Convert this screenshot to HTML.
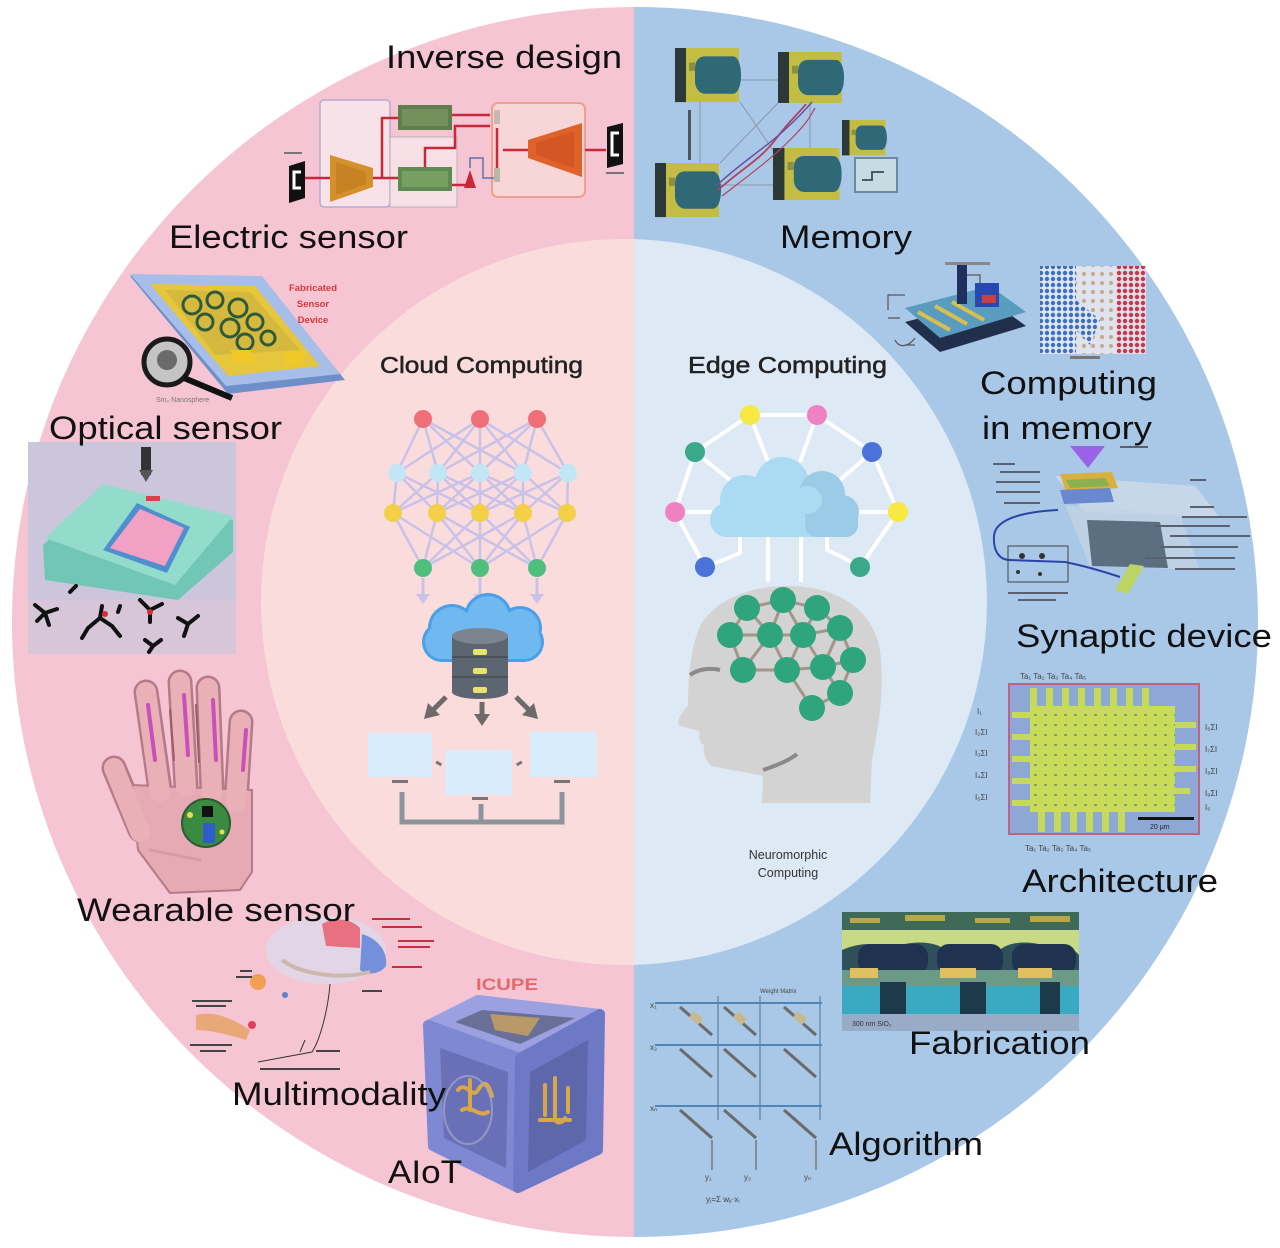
<!DOCTYPE html>
<html><head><meta charset="utf-8">
<style>
html,body{margin:0;padding:0;background:#fff;}
svg{display:block;}
text{font-family:"Liberation Sans",Arial,sans-serif;}
</style></head><body>
<svg width="1280" height="1248" viewBox="0 0 1280 1248" xmlns="http://www.w3.org/2000/svg">
<defs>
<clipPath id="L"><rect x="0" y="0" width="634" height="1248"/></clipPath>
<clipPath id="R"><rect x="634" y="0" width="646" height="1248"/></clipPath>
<pattern id="blat" width="6" height="6" patternUnits="userSpaceOnUse"><rect width="6" height="6" fill="#dfe6f2"/><circle cx="3" cy="3" r="2.2" fill="#3f6fc0"/></pattern>
<pattern id="rlat" width="6" height="6" patternUnits="userSpaceOnUse"><rect width="6" height="6" fill="#e8dde6"/><circle cx="3" cy="3" r="2.2" fill="#c03a50"/></pattern>
<pattern id="mlat" width="9" height="9" patternUnits="userSpaceOnUse"><rect width="9" height="9" fill="#dfe3ee"/><circle cx="4" cy="4" r="2" fill="#c7a888"/></pattern>
<pattern id="grid" width="10" height="10" patternUnits="userSpaceOnUse"><rect width="10" height="10" fill="#c9dc5a"/><rect x="4" y="4" width="3" height="2" fill="#8a9a6a"/></pattern>
<g id="mp">
 <rect x="0" y="0" width="64" height="52" fill="#c4bd45"/>
 <rect x="0" y="0" width="11" height="52" fill="#2d3838"/>
 <path d="M30,8 H58 C62,8 66,14 66,26 C66,38 62,44 58,44 H30 C24,44 20,38 20,32 V20 C20,12 24,8 30,8 Z" fill="#2f6876"/>
 <rect x="14" y="14" width="6" height="8" fill="#8a9040"/>
</g>
</defs>
<rect width="1280" height="1248" fill="#fff"/>
<ellipse cx="635" cy="622" rx="623" ry="615" fill="#f6c5d3" clip-path="url(#L)"/>
<ellipse cx="635" cy="622" rx="623" ry="615" fill="#a9c8e7" clip-path="url(#R)"/>
<circle cx="624" cy="602" r="363" fill="#fadcdc" clip-path="url(#L)"/>
<circle cx="624" cy="602" r="363" fill="#dde9f5" clip-path="url(#R)"/>

<!-- ===== Inverse design illustration ===== -->
<g>
 <rect x="320" y="100" width="70" height="107" rx="4" fill="#f8e2ea" stroke="#b9a9cf" stroke-width="1.5"/>
 <rect x="390" y="137" width="67" height="70" fill="#f6e0e6" stroke="#b8b0b8" stroke-width="1"/>
 <rect x="492" y="103" width="93" height="94" rx="6" fill="#f8d6d8" stroke="#ef9f8c" stroke-width="2"/>
 <polygon points="289,166 305,161 305,198 289,203" fill="#111"/>
 <path d="M301,172 h-7 v16 h7" stroke="#fff" stroke-width="3" fill="none"/>
 <polygon points="330,155 373,168 373,187 330,202" fill="#d4902a"/>
 <polygon points="336,162 366,172 366,184 336,195" fill="#c07a20" opacity="0.6"/>
 <rect x="398" y="105" width="54" height="25" fill="#5f7e4c"/>
 <rect x="402" y="109" width="46" height="17" fill="#7d9a62" opacity="0.7"/>
 <rect x="398" y="167" width="54" height="24" fill="#5f8a50"/>
 <rect x="402" y="171" width="46" height="16" fill="#80a868" opacity="0.7"/>
 <g stroke="#c8283a" stroke-width="2.5" fill="none">
  <path d="M305,178 H330"/>
  <path d="M373,178 H398 M382,178 V118 H398"/>
  <path d="M452,115 H490"/>
  <path d="M425,167 V148 H455 V126 H490"/>
  <path d="M452,185 H470"/>
  <path d="M503,150 H528"/>
  <path d="M585,150 H606"/>
  <path d="M497,178 V128"/>
 </g>
 <path d="M464,188 L470,170 L476,188 Z" fill="#c8283a"/>
 <path d="M470,168 V158 H483 V178 H495" stroke="#6070b0" stroke-width="1.5" fill="none"/>
 <rect x="494" y="110" width="6" height="14" fill="#c8b8b0"/>
 <rect x="494" y="168" width="6" height="14" fill="#b8b8a8"/>
 <polygon points="528,140 582,123 582,177 528,158" fill="#e0622a"/>
 <polygon points="536,143 574,131 574,168 536,155" fill="#c84a20" opacity="0.5"/>
 <polygon points="607,127 623,123 623,164 607,168" fill="#111"/>
 <path d="M619,133 h-7 v22 h7" stroke="#fff" stroke-width="3" fill="none"/>
 <rect x="284" y="152" width="18" height="2" fill="#777"/>
 <rect x="606" y="172" width="18" height="2" fill="#777"/>
</g>

<!-- ===== Electric sensor device ===== -->
<g>
 <polygon points="130,276 262,278 345,380 228,394" fill="#6e8fc8"/>
 <polygon points="130,274 262,276 340,374 226,386" fill="#a7bfe8"/>
 <polygon points="150,284 255,286 320,366 228,376" fill="#e6c63c"/>
 <polygon points="165,290 250,292 300,350 215,355" fill="#c8b040" opacity="0.6"/>
 <g fill="none" stroke="#2f5a3a" stroke-width="3">
  <circle cx="192" cy="305" r="9"/><circle cx="215" cy="300" r="8"/><circle cx="238" cy="308" r="9"/>
  <circle cx="205" cy="322" r="8"/><circle cx="230" cy="328" r="9"/><circle cx="255" cy="322" r="8"/>
  <circle cx="245" cy="342" r="8"/><circle cx="268" cy="338" r="7"/>
 </g>
 <rect x="228" y="350" width="20" height="14" fill="#f0c828" transform="skewX(20) translate(-125,0)"/>
 <rect x="285" y="352" width="18" height="14" fill="#f0c828"/>
 <circle cx="167" cy="362" r="23" fill="#c4c4c4" stroke="#1a1a1a" stroke-width="5"/>
 <circle cx="167" cy="360" r="10" fill="#6a6a6a"/>
 <line x1="184" y1="378" x2="232" y2="398" stroke="#111" stroke-width="6"/>
 <text x="156" y="402" font-size="7" fill="#777">Sm₂ Nanosphere</text>
 <g font-size="9.5" font-weight="bold" fill="#d8383a" text-anchor="middle">
  <text x="313" y="291">Fabricated</text>
  <text x="313" y="307">Sensor</text>
  <text x="313" y="323">Device</text>
 </g>
</g>

<!-- ===== Optical sensor ===== -->
<g>
 <rect x="28" y="442" width="208" height="212" fill="#cbc6dc"/>
 <rect x="28" y="600" width="208" height="54" fill="#d6c6d8"/>
 <polygon points="43,545 103,488 233,520 233,552 178,600 45,580" fill="#72c6b6"/>
 <polygon points="45,538 103,484 233,516 175,585" fill="#93dccc"/>
 <polygon points="137,503 190,527 167,573 103,550" fill="#4f8fd0"/>
 <polygon points="140,509 184,528 165,566 110,548" fill="#f2a0c4"/>
 <rect x="141" y="447" width="10" height="28" fill="#333"/>
 <polygon points="139,470 153,470 146,482" fill="#555"/>
 <rect x="146" y="496" width="14" height="5" fill="#d84050"/>
 <g stroke="#111" stroke-width="4" stroke-linecap="round" fill="none">
  <path d="M35,605 l10,8 l-8,8 M45,613 l12,-4 M45,613 l4,12"/>
  <path d="M88,628 l12,-10 l12,8 M100,618 l2,-12 M88,628 l-6,10 M112,626 l8,10"/>
  <path d="M140,600 l10,10 l12,-6 M150,610 l0,12"/>
  <path d="M178,618 l10,6 l10,-8 M188,624 l-4,12"/>
  <path d="M145,640 l8,6 l8,-6 M153,646 l-4,6"/>
  <path d="M118,612 l2,-6"/><path d="M70,592 l6,-6"/>
 </g>
 <circle cx="105" cy="614" r="3" fill="#d03030"/>
 <circle cx="150" cy="612" r="3" fill="#d03030"/>
</g>

<!-- ===== Hand ===== -->
<g stroke-linecap="round">
 <g stroke="#b57a88" stroke-width="25">
  <line x1="160" y1="790" x2="146" y2="692"/>
  <line x1="186" y1="785" x2="180" y2="682"/>
  <line x1="212" y1="790" x2="208" y2="688"/>
  <line x1="236" y1="800" x2="241" y2="722"/>
  <line x1="140" y1="830" x2="114" y2="768"/>
 </g>
 <polygon points="132,785 252,790 252,872 240,890 170,893 138,850" fill="#e6aab4" stroke="#b57a88" stroke-width="2"/>
 <g stroke="#e9b0b8" stroke-width="20">
  <line x1="160" y1="792" x2="146" y2="692"/>
  <line x1="186" y1="787" x2="180" y2="682"/>
  <line x1="212" y1="792" x2="208" y2="688"/>
  <line x1="236" y1="802" x2="241" y2="722"/>
  <line x1="140" y1="832" x2="114" y2="768"/>
 </g>
 <g stroke="#c850b8" stroke-width="4">
  <line x1="155" y1="760" x2="148" y2="705"/>
  <line x1="188" y1="755" x2="184" y2="695"/>
  <line x1="216" y1="760" x2="213" y2="700"/>
  <line x1="243" y1="770" x2="246" y2="730"/>
 </g>
 <g stroke="#9a5a68" stroke-width="2">
  <line x1="174" y1="760" x2="170" y2="710"/>
  <line x1="199" y1="762" x2="196" y2="705"/>
 </g>
 <line x1="150" y1="850" x2="200" y2="860" stroke="#d79aa6" stroke-width="3"/>
 <circle cx="206" cy="823" r="24" fill="#3b8a42" stroke="#2a5a30" stroke-width="2"/>
 <rect x="202" y="806" width="11" height="11" fill="#111"/>
 <rect x="203" y="823" width="12" height="20" fill="#2f5cc8"/>
 <circle cx="190" cy="815" r="3" fill="#e8e050"/>
 <circle cx="222" cy="832" r="2.5" fill="#e8e050"/>
</g>

<!-- ===== Multimodality brain ===== -->
<g>
 <ellipse cx="326" cy="950" rx="60" ry="34" fill="#e2d6e6"/>
 <path d="M322,924 C334,917 350,918 360,928 L360,948 L326,946 Z" fill="#e87080"/>
 <path d="M362,934 C376,938 388,950 386,966 C380,974 368,976 360,970 Z" fill="#7590da"/>
 <path d="M282,960 C300,974 340,980 370,972" stroke="#cdb8b0" stroke-width="4" fill="none"/>
 <circle cx="258" cy="982" r="8" fill="#f0a050"/>
 <g stroke="#333" stroke-width="1" fill="none">
  <path d="M330,984 C328,1010 320,1040 312,1052 L258,1062"/>
  <path d="M305,1040 l-5,12"/>
 </g>
 <g fill="#c83040">
  <rect x="372" y="918" width="38" height="2"/><rect x="382" y="926" width="40" height="2"/>
  <rect x="398" y="940" width="36" height="2"/><rect x="398" y="946" width="32" height="2"/>
  <rect x="392" y="966" width="30" height="2"/>
 </g>
 <g fill="#444">
  <rect x="240" y="970" width="12" height="2"/><rect x="236" y="976" width="16" height="2"/>
  <rect x="192" y="1000" width="40" height="2"/><rect x="196" y="1005" width="30" height="2"/>
  <rect x="190" y="1044" width="42" height="2"/><rect x="200" y="1050" width="26" height="2"/>
  <rect x="260" y="1068" width="80" height="2"/><rect x="316" y="1050" width="24" height="2"/>
  <rect x="362" y="990" width="20" height="2"/>
 </g>
 <path d="M196,1015 C215,1010 235,1020 250,1030 L246,1040 C230,1035 210,1030 196,1030 Z" fill="#e8a878"/>
 <circle cx="252" cy="1025" r="4" fill="#e04060"/>
 <circle cx="285" cy="995" r="3" fill="#6080d0"/>
</g>

<!-- ===== AIoT cube ===== -->
<g stroke-linejoin="round">
 <polygon points="428,1025 478,1000 600,1014 520,1058" fill="#9aa0e0" stroke="#9aa0e0" stroke-width="10"/>
 <polygon points="428,1025 520,1058 518,1188 433,1146" fill="#7f88d2" stroke="#7f88d2" stroke-width="10"/>
 <polygon points="520,1058 600,1014 598,1150 518,1188" fill="#6e79c6" stroke="#6e79c6" stroke-width="10"/>
 <polygon points="455,1022 482,1010 575,1018 520,1044" fill="#6a6f98"/>
 <polygon points="490,1014 540,1018 528,1036 495,1030" fill="#b89a68"/>
 <polygon points="440,1048 508,1072 506,1168 444,1138" fill="#6a70b8"/>
 <polygon points="530,1072 588,1040 586,1140 528,1172" fill="#5e66ac"/>
 <g stroke="#d8a848" stroke-width="4" fill="none" stroke-linecap="round">
  <path d="M458,1090 c8,-10 14,10 20,0 s10,-8 14,6 M462,1110 c10,-6 16,8 26,2 M470,1080 v30"/>
  <path d="M545,1085 v30 M555,1078 v40 c0,6 8,6 10,0 M568,1088 v24 M540,1120 h30"/>
 </g>
 <ellipse cx="468" cy="1110" rx="24" ry="34" fill="none" stroke="#a8a8c8" stroke-width="2" opacity="0.7"/>
 <text x="476" y="990" font-size="17" font-weight="bold" fill="#e26a6a" textLength="62" lengthAdjust="spacingAndGlyphs">ICUPE</text>
</g>

<!-- ===== Cloud computing ===== -->
<g>
 <path stroke="#c8c2ea" stroke-width="2.5" fill="none" d="M423 419L397 473M423 419L438 473M423 419L480 473M423 419L523 473M480 419L397 473M480 419L438 473M480 419L480 473M480 419L523 473M480 419L568 473M537 419L438 473M537 419L480 473M537 419L523 473M537 419L568 473M397 473L393 513M397 473L437 513M397 473L480 513M438 473L393 513M438 473L437 513M438 473L480 513M438 473L523 513M480 473L393 513M480 473L437 513M480 473L480 513M480 473L523 513M480 473L567 513M523 473L437 513M523 473L480 513M523 473L523 513M523 473L567 513M568 473L480 513M568 473L523 513M568 473L567 513M393 513L423 568M393 513L480 568M437 513L423 568M437 513L480 568M437 513L537 568M480 513L423 568M480 513L480 568M480 513L537 568M523 513L423 568M523 513L480 568M523 513L537 568M567 513L480 568M567 513L537 568"/>
 <g fill="#ee6f78"><circle cx="423" cy="419" r="9"/><circle cx="480" cy="419" r="9"/><circle cx="537" cy="419" r="9"/></g>
 <g fill="#c2e6f6"><circle cx="397" cy="473" r="9"/><circle cx="438" cy="473" r="9"/><circle cx="480" cy="473" r="9"/><circle cx="523" cy="473" r="9"/><circle cx="568" cy="473" r="9"/></g>
 <g fill="#f4cf48"><circle cx="393" cy="513" r="9"/><circle cx="437" cy="513" r="9"/><circle cx="480" cy="513" r="9"/><circle cx="523" cy="513" r="9"/><circle cx="567" cy="513" r="9"/></g>
 <g fill="#4fc07c"><circle cx="423" cy="568" r="9"/><circle cx="480" cy="568" r="9"/><circle cx="537" cy="568" r="9"/></g>
 <g stroke="#c8c2ea" stroke-width="3" fill="#c8c2ea">
  <line x1="423" y1="578" x2="423" y2="596"/><line x1="480" y1="578" x2="480" y2="596"/><line x1="537" y1="578" x2="537" y2="596"/>
 </g>
 <g fill="#c8c2ea"><polygon points="416,594 430,594 423,604"/><polygon points="473,594 487,594 480,604"/><polygon points="530,594 544,594 537,604"/></g>
 <!-- cloud -->
 <g fill="#4b9fe6">
  <rect x="422" y="622" width="122" height="40" rx="20"/>
  <circle cx="452" cy="628" r="24"/><circle cx="488" cy="617" r="24"/><circle cx="520" cy="628" r="22"/>
 </g>
 <g fill="#6fb8f0">
  <rect x="425" y="625" width="116" height="34" rx="17"/>
  <circle cx="452" cy="628" r="21"/><circle cx="488" cy="617" r="21"/><circle cx="520" cy="628" r="19"/>
 </g>
 <rect x="452" y="636" width="56" height="56" fill="#5d6670"/>
 <ellipse cx="480" cy="692" rx="28" ry="7" fill="#5d6670"/>
 <ellipse cx="480" cy="636" rx="28" ry="8" fill="#7c858f"/>
 <line x1="452" y1="657" x2="508" y2="657" stroke="#4a525a" stroke-width="2"/>
 <line x1="452" y1="677" x2="508" y2="677" stroke="#4a525a" stroke-width="2"/>
 <g fill="#e8e272"><rect x="473" y="649" width="14" height="6" rx="2"/><rect x="473" y="668" width="14" height="6" rx="2"/><rect x="473" y="687" width="14" height="6" rx="2"/></g>
 <g stroke="#6f6a6a" stroke-width="5">
  <line x1="446" y1="697" x2="433" y2="710"/><line x1="482" y1="702" x2="482" y2="716"/><line x1="516" y1="697" x2="529" y2="710"/>
 </g>
 <g fill="#6f6a6a">
  <polygon points="424,719 428,703 440,715"/><polygon points="474,714 490,714 482,726"/><polygon points="538,719 522,715 534,703"/>
 </g>
 <g fill="#d8ecfb">
  <rect x="368" y="733" width="64" height="44"/><rect x="445" y="750" width="67" height="45"/><rect x="530" y="732" width="67" height="45"/>
 </g>
 <g fill="#777"><rect x="392" y="780" width="16" height="3"/><rect x="472" y="797" width="16" height="3"/><rect x="554" y="780" width="16" height="3"/>
  <rect x="436" y="762" width="6" height="3" transform="rotate(30 439 763)"/><rect x="516" y="762" width="6" height="3" transform="rotate(-30 519 763)"/></g>
 <path d="M402,792 V822 H562 V792 M481,804 V822" stroke="#8c939b" stroke-width="5" fill="none"/>
 <text x="380" y="373" font-size="23" fill="#222" stroke="#222" stroke-width="0.5" textLength="203" lengthAdjust="spacingAndGlyphs">Cloud  Computing</text>
</g>

<!-- ===== Edge computing ===== -->
<g>
 <g stroke="#ffffff" stroke-width="4" fill="none" stroke-linejoin="round">
  <path d="M750,415 H817 M750,415 L695,452 L675,512 L705,567 M817,415 L872,452 L898,512 L860,567"/>
  <path d="M750,415 L768,462 M817,415 L800,462 M695,452 L730,480 M872,452 L840,480 M675,512 H712 M898,512 H856"/>
  <path d="M705,567 L723,560 L740,553 V530 M860,567 L842,557 L827,550 V530"/>
  <path d="M768,530 V582 M801,530 V582"/>
 </g>
 <g fill="#abdaf3">
  <rect x="710" y="503" width="148" height="34" rx="17"/>
  <circle cx="745" cy="500" r="25"/><circle cx="782" cy="484" r="27"/>
 </g>
 <g fill="#9ccbe8">
  <circle cx="822" cy="494" r="23"/><circle cx="842" cy="512" r="17"/><rect x="805" y="503" width="53" height="34" rx="12"/>
 </g>
 <circle cx="808" cy="500" r="14" fill="#abdaf3"/>
 <circle cx="750" cy="415" r="10" fill="#f8e844"/><circle cx="817" cy="415" r="10" fill="#ef80c2"/>
 <circle cx="695" cy="452" r="10" fill="#3aa98a"/><circle cx="872" cy="452" r="10" fill="#4a72d8"/>
 <circle cx="675" cy="512" r="10" fill="#ef80c2"/><circle cx="898" cy="512" r="10" fill="#f8e844"/>
 <circle cx="705" cy="567" r="10" fill="#4a72d8"/><circle cx="860" cy="567" r="10" fill="#3aa98a"/>
 <!-- head -->
 <path d="M787,586 C838,586 878,610 881,660 C884,700 877,732 872,760 L870,803 L762,803 L763,776 C748,772 728,770 712,766 C705,761 703,753 704,745 C698,742 700,736 699,731 L680,726 C675,722 682,712 688,706 C688,680 690,650 700,626 C715,600 750,586 787,586 Z" fill="#d3d3d3"/>
 <path d="M690,675 C700,668 712,668 720,670" stroke="#8a8a8a" stroke-width="4" fill="none"/>
 <path d="M763,770 C775,766 790,760 797,754" stroke="#8a8a8a" stroke-width="4" fill="none"/>
 <path stroke="#a2968c" stroke-width="3" fill="none" d="M747,608L783,600L817,608L840,628M747,608L730,635M747,608L770,635M783,600L770,635M783,600L803,635M817,608L803,635M730,635L770,635L803,635L840,628M730,635L743,670M770,635L743,670M770,635L787,670M803,635L787,670M803,635L823,667M840,628L823,667M840,628L853,660M743,670L787,670L823,667L853,660M823,667L840,693M853,660L840,693L812,708M787,670L812,708"/>
 <g fill="#2ea57c">
  <circle cx="747" cy="608" r="13"/><circle cx="783" cy="600" r="13"/><circle cx="817" cy="608" r="13"/>
  <circle cx="730" cy="635" r="13"/><circle cx="770" cy="635" r="13"/><circle cx="803" cy="635" r="13"/><circle cx="840" cy="628" r="13"/>
  <circle cx="743" cy="670" r="13"/><circle cx="787" cy="670" r="13"/><circle cx="823" cy="667" r="13"/><circle cx="853" cy="660" r="13"/>
  <circle cx="840" cy="693" r="13"/><circle cx="812" cy="708" r="13"/>
 </g>
 <text x="688" y="373" font-size="23" fill="#222" stroke="#222" stroke-width="0.5" textLength="199" lengthAdjust="spacingAndGlyphs">Edge  Computing</text>
 <g font-size="12.5" fill="#333" text-anchor="middle">
  <text x="788" y="859">Neuromorphic</text>
  <text x="788" y="877">Computing</text>
 </g>
</g>

<!-- ===== Memory ===== -->
<g>
 <g stroke="#8a96a8" stroke-width="1" fill="none">
  <path d="M740,80 H778 M700,102 V163 M810,103 V148 M720,185 H773 M740,102 L773,150 M778,103 L720,163"/>
 </g>
 <g fill="#555"><rect x="688" y="110" width="3" height="50"/></g>
 <use href="#mp" transform="translate(675,48) scale(1.0,1.04)"/>
 <use href="#mp" transform="translate(778,52) scale(1.0,0.98)"/>
 <use href="#mp" transform="translate(655,163) scale(1.0,1.04)"/>
 <use href="#mp" transform="translate(773,148) scale(1.04,1.0)"/>
 <use href="#mp" transform="translate(842,120) scale(0.68,0.68)"/>
 <rect x="855" y="158" width="42" height="34" fill="#c6dbe2" stroke="#7088a0" stroke-width="2"/>
 <path d="M862,180 h10 v-8 h12" stroke="#406070" stroke-width="2" fill="none"/>
 <path d="M718,190 C740,170 760,160 775,140 S800,112 806,104" stroke="#b04060" stroke-width="1.8" fill="none"/>
 <path d="M716,186 C742,162 762,150 780,134 S805,110 812,102" stroke="#6a50a0" stroke-width="1.5" fill="none"/>
 <path d="M722,196 C748,176 770,160 790,140 S810,116 815,108" stroke="#b04060" stroke-width="1.2" fill="none"/>
</g>

<!-- ===== CIM image ===== -->
<g>
 <g stroke="#555" stroke-width="1.2" fill="none">
  <path d="M888,310 V295 H905 M888,318 H900 M895,340 C900,350 910,345 915,338 M905,345 h10"/>
  <path d="M960,275 h20 v8"/>
 </g>
 <polygon points="905,322 990,300 1026,326 940,352" fill="#1f2f4c"/>
 <polygon points="905,308 990,286 1026,312 940,338" fill="#5a9cc0"/>
 <g stroke="#d8c050" stroke-width="4">
  <line x1="918" y1="312" x2="950" y2="330"/><line x1="935" y1="306" x2="967" y2="324"/><line x1="952" y1="302" x2="984" y2="320"/>
 </g>
 <rect x="975" y="283" width="24" height="24" fill="#2848b0"/>
 <rect x="982" y="295" width="14" height="8" fill="#c84040"/>
 <rect x="957" y="264" width="10" height="40" fill="#1f3060"/>
 <rect x="945" y="262" width="45" height="3" fill="#888"/>
 <rect x="1040" y="266" width="36" height="88" fill="url(#blat)"/>
 <rect x="1076" y="266" width="40" height="88" fill="url(#mlat)"/>
 <polygon points="1076,300 1100,320 1090,345 1076,330" fill="url(#blat)"/>
 <rect x="1116" y="266" width="30" height="88" fill="url(#rlat)"/>
 <rect x="1070" y="356" width="30" height="3" fill="#777"/>
</g>

<!-- ===== Synaptic device image ===== -->
<g>
 <polygon points="1070,446 1105,446 1088,468" fill="#9a62e6"/>
 <polygon points="1055,476 1195,486 1220,518 1085,512" fill="#c9d8ea" opacity="0.9"/>
 <polygon points="1065,505 1180,515 1200,570 1090,566" fill="#c3d2e4" opacity="0.8"/>
 <polygon points="1060,474 1112,472 1118,488 1066,492" fill="#d8b040"/>
 <polygon points="1066,480 1105,478 1110,486 1070,488" fill="#8ab050"/>
 <polygon points="1060,490 1110,488 1114,502 1064,504" fill="#6a88d0"/>
 <polygon points="1087,520 1160,522 1168,568 1092,566" fill="#5b6f80"/>
 <path d="M1058,510 C1020,512 995,520 994,536 C993,552 1000,560 1010,560 L1065,562 C1085,566 1105,572 1120,577" stroke="#2a44a8" stroke-width="2" fill="none"/>
 <rect x="1008" y="546" width="60" height="36" fill="none" stroke="#444" stroke-width="1"/>
 <g fill="#333"><circle cx="1022" cy="556" r="3"/><circle cx="1042" cy="556" r="3"/><circle cx="1018" cy="572" r="2"/><circle cx="1040" cy="574" r="2"/></g>
 <polygon points="1115,590 1130,564 1144,566 1128,594" fill="#bcd464"/>
 <g fill="#5a6070">
  <rect x="1008" y="592" width="60" height="2"/><rect x="1018" y="599" width="38" height="2"/>
  <rect x="993" y="463" width="22" height="2"/><rect x="1000" y="471" width="40" height="2"/><rect x="996" y="481" width="44" height="2"/>
  <rect x="996" y="491" width="44" height="2"/><rect x="1004" y="502" width="36" height="2"/>
  <rect x="1190" y="479" width="16" height="2"/><rect x="1190" y="506" width="24" height="2"/>
  <rect x="1182" y="516" width="65" height="2"/><rect x="1155" y="525" width="75" height="2"/>
  <rect x="1170" y="535" width="80" height="2"/><rect x="1160" y="546" width="78" height="2"/>
  <rect x="1145" y="557" width="90" height="2"/><rect x="1175" y="568" width="60" height="2"/>
  <rect x="1120" y="446" width="28" height="2"/>
 </g>
</g>

<!-- ===== Architecture ===== -->
<g>
 <rect x="1009" y="684" width="190" height="150" fill="#8ea8d6" stroke="#c06282" stroke-width="2"/>
 <g fill="#c6d95a">
  <rect x="1030" y="688" width="7" height="20"/><rect x="1046" y="688" width="7" height="20"/><rect x="1062" y="688" width="7" height="20"/><rect x="1078" y="688" width="7" height="20"/><rect x="1094" y="688" width="7" height="20"/><rect x="1110" y="688" width="7" height="20"/><rect x="1126" y="688" width="7" height="20"/><rect x="1142" y="688" width="7" height="20"/>
  <rect x="1038" y="812" width="7" height="20"/><rect x="1054" y="812" width="7" height="20"/><rect x="1070" y="812" width="7" height="20"/><rect x="1086" y="812" width="7" height="20"/><rect x="1102" y="812" width="7" height="20"/><rect x="1118" y="812" width="7" height="20"/>
  <rect x="1012" y="712" width="24" height="6"/><rect x="1012" y="734" width="24" height="6"/><rect x="1012" y="756" width="24" height="6"/><rect x="1012" y="778" width="24" height="6"/><rect x="1012" y="800" width="24" height="6"/>
  <rect x="1170" y="722" width="26" height="6"/><rect x="1170" y="744" width="26" height="6"/><rect x="1170" y="766" width="26" height="6"/><rect x="1170" y="788" width="20" height="6"/>
 </g>
 <rect x="1030" y="706" width="145" height="106" fill="url(#grid)"/>
 <rect x="1138" y="817" width="56" height="3" fill="#111"/>
 <text x="1150" y="829" font-size="7" fill="#222">20 μm</text>
 <g font-size="8" fill="#444">
  <text x="1020" y="679">Ta₁ Ta₂ Ta₃ Ta₄ Ta₅</text>
  <text x="1025" y="851">Ta₁ Ta₂ Ta₃ Ta₄ Ta₅</text>
  <text x="977" y="714">I₁</text><text x="975" y="735">I₂ΣI</text><text x="975" y="756">I₃ΣI</text><text x="975" y="778">I₄ΣI</text><text x="975" y="800">I₅ΣI</text>
  <text x="1205" y="730">I₆ΣI</text><text x="1205" y="752">I₇ΣI</text><text x="1205" y="774">I₈ΣI</text><text x="1205" y="796">I₉ΣI</text><text x="1205" y="810">I₀</text>
 </g>
</g>

<!-- ===== Fabrication ===== -->
<g>
 <rect x="842" y="912" width="237" height="110" fill="#2f4f5a"/>
 <rect x="842" y="912" width="237" height="22" fill="#3f6a58"/>
 <g fill="#b8a848"><rect x="850" y="918" width="30" height="5"/><rect x="905" y="915" width="40" height="6"/><rect x="975" y="918" width="35" height="5"/><rect x="1030" y="916" width="40" height="6"/></g>
 <path d="M842,930 H1079 V955 C1070,945 1060,942 1050,950 C1040,940 1010,940 1000,950 C990,942 960,942 945,950 C935,940 905,940 890,950 C880,942 860,942 842,950 Z" fill="#c8da86"/>
 <g fill="#1f3350">
  <rect x="858" y="944" width="70" height="30" rx="12"/><rect x="937" y="944" width="66" height="30" rx="12"/><rect x="1012" y="944" width="64" height="30" rx="12"/>
 </g>
 <rect x="842" y="970" width="237" height="16" fill="#6c9a88"/>
 <g fill="#e0c060"><rect x="850" y="968" width="28" height="10"/><rect x="940" y="968" width="36" height="10"/><rect x="1018" y="968" width="34" height="10"/></g>
 <rect x="842" y="986" width="237" height="28" fill="#3aa9c2"/>
 <g fill="#1e3a4a"><rect x="880" y="982" width="26" height="32"/><rect x="960" y="982" width="26" height="32"/><rect x="1040" y="982" width="20" height="32"/></g>
 <rect x="842" y="1014" width="237" height="17" fill="#98acc8"/>
 <text x="852" y="1026" font-size="7" fill="#333">300 nm SiO₂</text>
</g>

<!-- ===== Algorithm ===== -->
<g>
 <g stroke="#4d86bb" stroke-width="2">
  <line x1="655" y1="1003" x2="822" y2="1003"/><line x1="655" y1="1045" x2="822" y2="1045"/><line x1="655" y1="1106" x2="822" y2="1106"/>
 </g>
 <g stroke="#5e7e9e" stroke-width="1.2">
  <line x1="718" y1="996" x2="718" y2="1120"/><line x1="760" y1="996" x2="760" y2="1120"/><line x1="820" y1="996" x2="820" y2="1120"/>
 </g>
 <g stroke="#6a6a6a" stroke-width="3">
  <line x1="680" y1="1007" x2="712" y2="1035"/><line x1="724" y1="1007" x2="756" y2="1035"/><line x1="784" y1="1007" x2="816" y2="1035"/>
  <line x1="680" y1="1049" x2="712" y2="1077"/><line x1="724" y1="1049" x2="756" y2="1077"/><line x1="784" y1="1049" x2="816" y2="1077"/>
  <line x1="680" y1="1110" x2="712" y2="1138"/><line x1="724" y1="1110" x2="756" y2="1138"/><line x1="784" y1="1110" x2="816" y2="1138"/>
 </g>
 <g fill="#c8b890"><rect x="690" y="1014" width="12" height="8" transform="rotate(40 696 1018)"/><rect x="734" y="1014" width="12" height="8" transform="rotate(40 740 1018)"/><rect x="794" y="1014" width="12" height="8" transform="rotate(40 800 1018)"/></g>
 <g fill="#444" font-size="8">
  <text x="650" y="1008">x₁</text><text x="650" y="1050">x₂</text><text x="650" y="1111">xₙ</text>
  <text x="705" y="1180">y₁</text><text x="744" y="1180">y₂</text><text x="804" y="1180">yₙ</text>
  <text x="706" y="1202">yⱼ=Σ wᵢⱼ·xᵢ</text>
  <text x="760" y="993" font-size="6">Weight Matrix</text>
 </g>
 <g stroke="#777" stroke-width="1.5"><line x1="712" y1="1140" x2="712" y2="1170"/><line x1="756" y1="1140" x2="756" y2="1170"/><line x1="816" y1="1140" x2="816" y2="1170"/></g>
</g>

<!-- ===== Big labels ===== -->
<g font-size="32" fill="#111">
 <text x="386" y="68" textLength="236" lengthAdjust="spacingAndGlyphs">Inverse design</text>
 <text x="169" y="248" textLength="239" lengthAdjust="spacingAndGlyphs">Electric sensor</text>
 <text x="49" y="439" textLength="233" lengthAdjust="spacingAndGlyphs">Optical sensor</text>
 <text x="77" y="921" textLength="278" lengthAdjust="spacingAndGlyphs">Wearable sensor</text>
 <text x="232" y="1105" textLength="214" lengthAdjust="spacingAndGlyphs">Multimodality</text>
 <text x="388" y="1183" textLength="74" lengthAdjust="spacingAndGlyphs">AIoT</text>
 <text x="780" y="248" textLength="132" lengthAdjust="spacingAndGlyphs">Memory</text>
 <text x="980" y="394" textLength="177" lengthAdjust="spacingAndGlyphs">Computing</text>
 <text x="982" y="439" textLength="170" lengthAdjust="spacingAndGlyphs">in memory</text>
 <text x="1016" y="647" textLength="256" lengthAdjust="spacingAndGlyphs">Synaptic device</text>
 <text x="1022" y="892" textLength="196" lengthAdjust="spacingAndGlyphs">Architecture</text>
 <text x="909" y="1054" textLength="181" lengthAdjust="spacingAndGlyphs">Fabrication</text>
 <text x="829" y="1155" textLength="154" lengthAdjust="spacingAndGlyphs">Algorithm</text>
</g>
</svg>
</body></html>
